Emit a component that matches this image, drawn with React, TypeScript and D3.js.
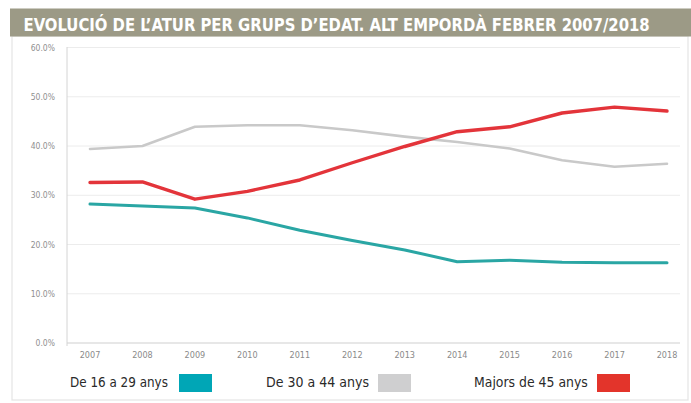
import React, { useLayoutEffect, useRef, useState } from "react";
import * as d3 from "d3";

const years = ["2007","2008","2009","2010","2011","2012","2013","2014","2015","2016","2017","2018"];
const young = [28.2, 27.8, 27.4, 25.4, 22.9, 20.8, 18.9, 16.5, 16.8, 16.4, 16.3, 16.3];
const middle = [39.4, 40.0, 43.9, 44.2, 44.2, 43.2, 41.9, 40.8, 39.5, 37.1, 35.8, 36.4];
const senior = [32.6, 32.7, 29.2, 30.8, 33.1, 36.6, 39.9, 42.9, 43.9, 46.7, 47.9, 47.1];
const yTicks = [0, 10, 20, 30, 40, 50, 60];
const seriesNames = ["De 16 a 29 anys", "De 30 a 44 anys", "Majors de 45 anys"];
const seriesColors = ["#2aa6a4", "#c9c9c9", "#e3343a"];
const legendColors = ["#00a6b6", "#cfcfd0", "#e3342b"];
const title = "EVOLUCIÓ DE L’ATUR PER GRUPS D’EDAT. ALT EMPORDÀ FEBRER 2007/2018";

const FONT = "'DejaVu Sans Condensed','Liberation Sans Narrow',sans-serif";

function FitText(props: { x: number; y: number; width: number; children: string; [k: string]: any }) {
  const { x, y, width, children, ...rest } = props;
  const ref = useRef<SVGTextElement>(null);
  const [s, setS] = useState(1);
  useLayoutEffect(() => {
    if (ref.current) {
      const w = ref.current.getComputedTextLength();
      if (w > 0) setS(width / w);
    }
  }, [width, children]);
  return (
    <text ref={ref} x={0} y={0} transform={`translate(${x},${y}) scale(${s},1)`} {...rest}>{children}</text>
  );
}

export default function App() {
  const W = 691, H = 403;
  const x = d3.scalePoint<string>().domain(years).range([90, 667]);
  const y = d3.scaleLinear().domain([0, 60]).range([343, 47.5]);
  const line = d3.line<number>().x((_, i) => x(years[i]) as number).y(d => y(d));
  const all = [young, middle, senior];
  const widths = [3, 2.6, 3.4];
  const legendText = [70, 266, 474];
  const legendTextW = [98, 103, 114];
  const legendSw = [179, 378, 597];
  return (
    <svg width={W} height={H} style={{ position: "absolute", left: 0, top: 0, background: "#fff" }}>
      <rect x={0} y={0} width={W} height={H} fill="#ffffff" />
      <rect x={12} y={36} width={676} height={364} fill="#fff" stroke="#e4e4e4" strokeWidth={1.2} />
      <rect x={10} y={8.5} width={681} height={28} fill="#9c9a86" />
      <FitText x={23.5} y={31} width={627} fill="#ffffff" fontFamily={FONT} fontWeight="bold" fontSize={18.5}>{title}</FitText>
      {yTicks.map(t => (
        <g key={t}>
          <line x1={67} x2={680} y1={y(t)} y2={y(t)} stroke={t === 0 ? "#cfcfcf" : "#ececec"} strokeWidth={1} />
          <text x={55} y={y(t) + 3} textAnchor="end" fontFamily={FONT} fontSize={8.5} fill="#8f8f8f">{d3.format(".1f")(t)}%</text>
        </g>
      ))}
      <line x1={67} x2={67} y1={47} y2={346} stroke="#d4d4d4" strokeWidth={1} />
      {years.map(yr => (
        <text key={yr} x={x(yr)} y={358} textAnchor="middle" fontFamily={FONT} fontSize={9} fill="#8a8a8a">{yr}</text>
      ))}
      {[1, 2, 0].map(i => (
        <path key={i} d={line(all[i]) || ""} fill="none" stroke={seriesColors[i]} strokeWidth={widths[i]} strokeLinejoin="round" strokeLinecap="round" />
      ))}
      {seriesNames.map((n, i) => (
        <g key={n}>
          <FitText x={legendText[i]} y={387} width={legendTextW[i]} fontFamily={FONT} fontSize={14} fill="#2a2a2a">{n}</FitText>
          <rect x={legendSw[i]} y={374} width={33} height={18} fill={legendColors[i]} />
        </g>
      ))}
    </svg>
  );
}
